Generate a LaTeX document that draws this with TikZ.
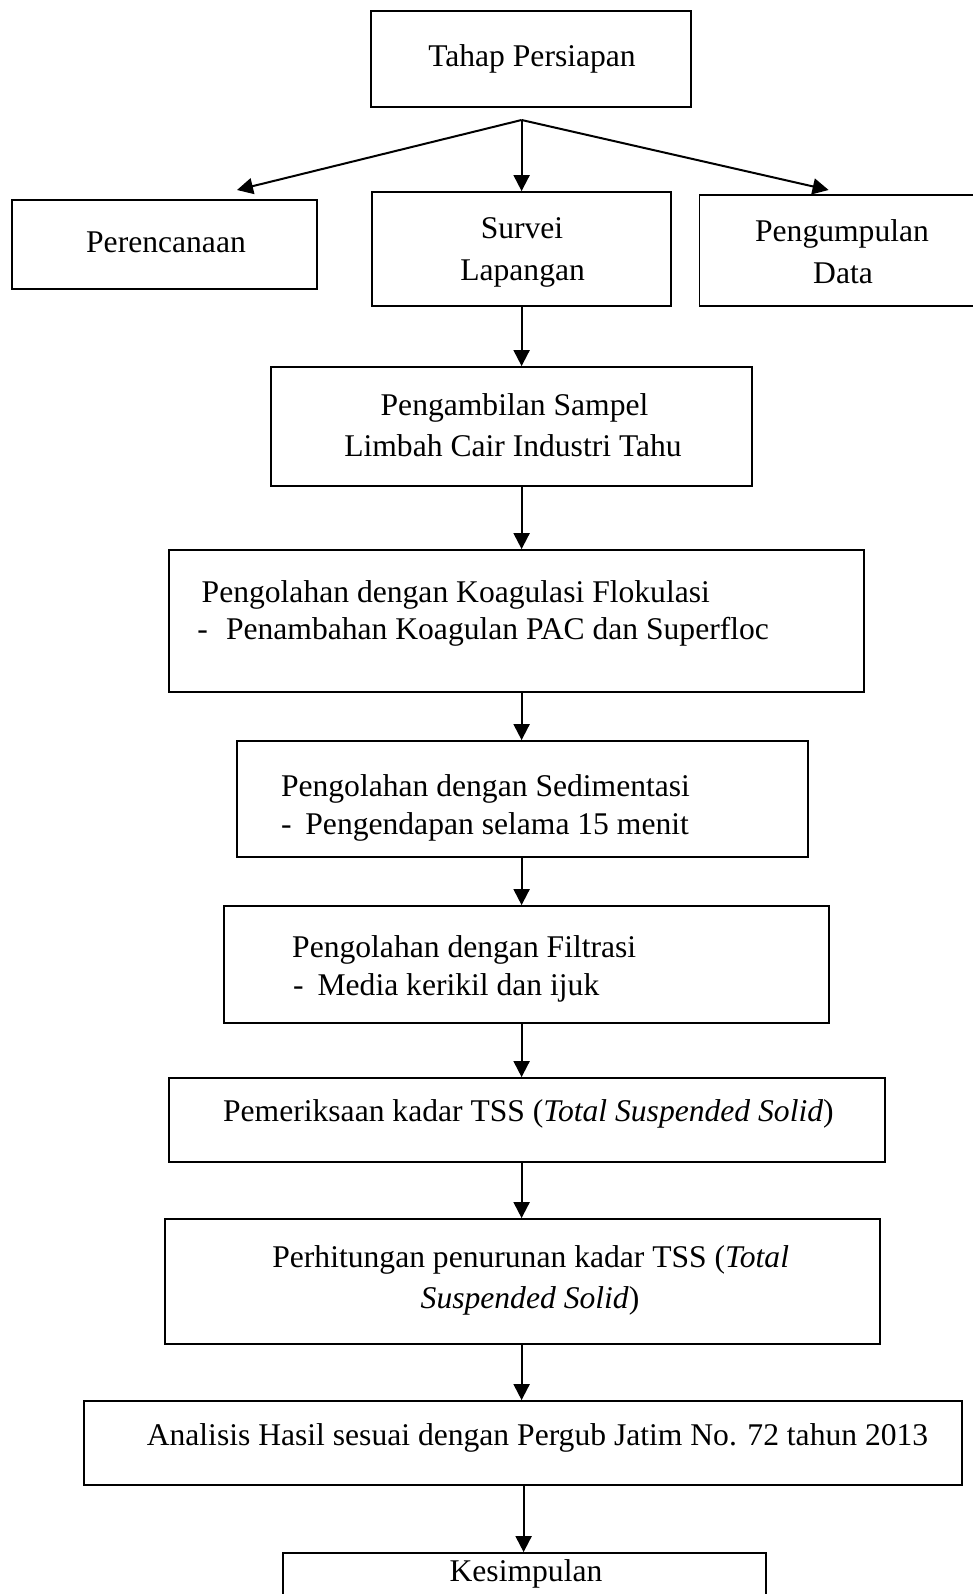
\documentclass[tikz,border=0pt]{standalone}
\usepackage{fontspec}
\setmainfont{Liberation Serif}
\usetikzlibrary{arrows.meta,fit}
\begin{document}
\begin{tikzpicture}[x=0.5pt,y=-0.5pt,
  box/.style={draw, line width=0.9pt, inner sep=0pt},
  txt/.style={inner sep=0pt, font=\fontsize{15.8pt}{20.85pt}\selectfont},
  arr/.style={line width=1pt, -{Triangle[length=8pt,width=8pt]}}]
\useasboundingbox (0,0) rectangle (973,1594);
\clip (0,0) rectangle (973,1594);
% boxes
\node[box, fit={(371,11) (691,107)}] (tahap) {};
\node[box, fit={(12,200) (317,289)}] (renc) {};
\node[box, fit={(372,192) (671,306)}] (survei) {};
\node[box, fit={(699.5,195) (990,306)}] (kumpul) {};
\node[box, fit={(271,367) (752,486)}] (sampel) {};
\node[box, fit={(169,550) (864,692)}] (koag) {};
\node[box, fit={(237,741) (808,857)}] (sedim) {};
\node[box, fit={(224,906) (829,1023)}] (filt) {};
\node[box, fit={(169,1078) (885,1162)}] (periksa) {};
\node[box, fit={(165,1219) (880,1344)}] (hitung) {};
\node[box, fit={(84,1401) (962,1485)}] (analisis) {};
\node[box, fit={(283,1553) (766,1620)}] (simpul) {};
% texts
\node[txt, anchor=base] (t1) at (532,67) {Tahap Persiapan};
\node[txt, anchor=base] (t2) at (166,253) {Perencanaan};
\node[txt, anchor=base] (t3a) at (522,239) {Survei};
\node[txt, anchor=base] (t3b) at (522.6,280) {Lapangan};
\node[txt, anchor=base] (t4a) at (842,242) {Pengumpulan};
\node[txt, anchor=base] (t4b) at (843,283) {Data};
\node[txt, anchor=base] (t5a) at (514.5,415) {Pengambilan Sampel};
\node[txt, anchor=base] (t5b) at (513,456) {Limbah Cair Industri Tahu};
\node[txt, anchor=base west] (t6a) at (201.3,602) {Pengolahan dengan Koagulasi Flokulasi};
\node[txt, anchor=base west] (t6b) at (197,639) {\makebox[14.3pt][l]{-}Penambahan Koagulan PAC dan Superfloc};
\node[txt, anchor=base west] (t7a) at (280.6,796) {Pengolahan dengan Sedimentasi};
\node[txt, anchor=base west] (t7b) at (280.6,834) {\makebox[12.2pt][l]{-}Pengendapan selama 15 menit};
\node[txt, anchor=base west] (t8a) at (291.8,957) {Pengolahan dengan Filtrasi};
\node[txt, anchor=base west] (t8b) at (292.8,995) {\makebox[12.2pt][l]{-}Media kerikil dan ijuk};
\node[txt, anchor=base west] (t9) at (222.7,1121) {Pemeriksaan kadar TSS (\textit{Total Suspended Solid})};
\node[txt, anchor=base] (t10a) at (530.7,1267) {Perhitungan penurunan kadar TSS (\textit{Total}};
\node[txt, anchor=base] (t10b) at (530,1308) {\textit{Suspended Solid})};
\node[txt, anchor=base west] (t11) at (146.4,1445) {Analisis Hasil sesuai dengan Pergub Jatim No. 72 tahun 2013};
\node[txt, anchor=base] (t12) at (526,1581) {Kesimpulan};
% connectors
\coordinate (split) at (521.6,120);
\coordinate (lend) at (237,190);
\coordinate (rend) at (828.6,190);
\coordinate (ax) at (521.6,0);
\coordinate (bx) at (523.6,0);
\draw[arr] (split) -- (lend);
\draw[arr] (split) -- (survei.north -| ax);
\draw[arr] (split) -- (rend);
\draw[arr] (survei.south -| ax) -- (sampel.north -| ax);
\draw[arr] (sampel.south -| ax) -- (koag.north -| ax);
\draw[arr] (koag.south -| ax) -- (sedim.north -| ax);
\draw[arr] (sedim.south -| ax) -- (filt.north -| ax);
\draw[arr] (filt.south -| ax) -- (periksa.north -| ax);
\draw[arr] (periksa.south -| ax) -- (hitung.north -| ax);
\draw[arr] (hitung.south -| ax) -- (analisis.north -| ax);
\draw[arr] (analisis.south -| bx) -- (simpul.north -| bx);
\end{tikzpicture}
\end{document}
